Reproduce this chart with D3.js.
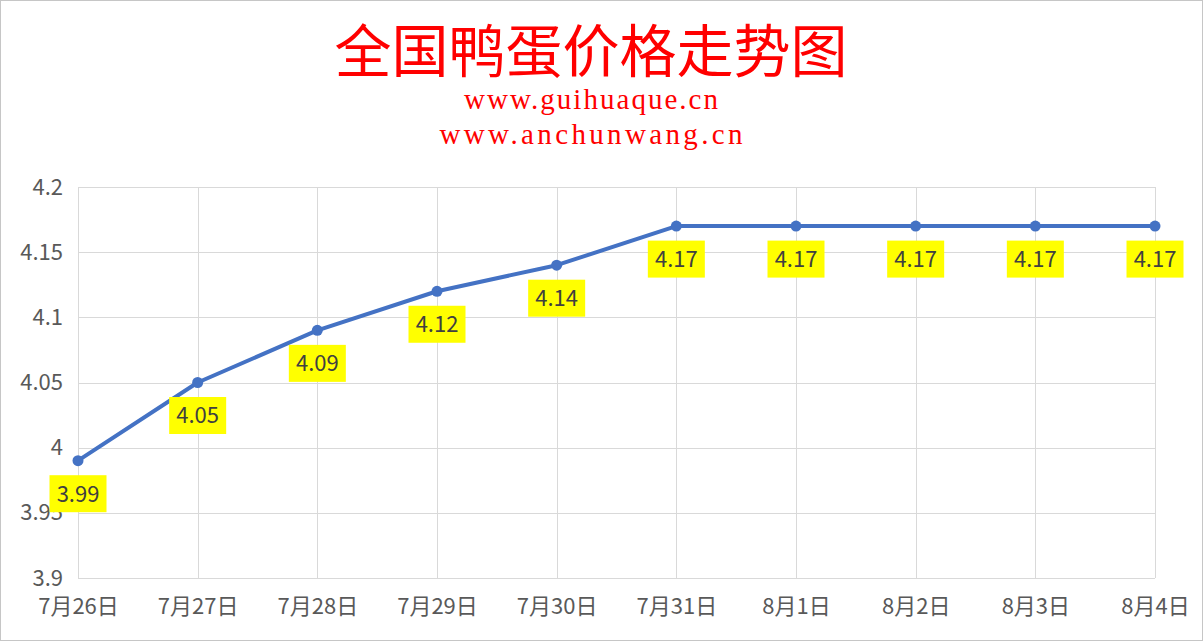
<!DOCTYPE html>
<html>
<head>
<meta charset="utf-8">
<script src="https://cdn.jsdelivr.net/npm/d3@7"></script>
<style>
  html, body { margin: 0; padding: 0; background: #fff; }
  svg { display: block; }
</style>
</head>
<body>
<svg id="chart"></svg>
<script>
const dates = ["7月26日", "7月27日", "7月28日", "7月29日", "7月30日", "7月31日", "8月1日", "8月2日", "8月3日", "8月4日"];
const prices = [3.99, 4.05, 4.09, 4.12, 4.14, 4.17, 4.17, 4.17, 4.17, 4.17];
const yTicks = [3.9, 3.95, 4, 4.05, 4.1, 4.15, 4.2];
const title = "全国鸭蛋价格走势图";
const subtitles = ["www.guihuaque.cn", "www.anchunwang.cn"];

const width = 1203;
const height = 641;
const margin = { top: 187, right: 48, bottom: 63, left: 78 };
const sans = "'Noto Sans CJK SC', 'DejaVu Sans', sans-serif";

const svg = d3.select("#chart").attr("width", width).attr("height", height);

svg
  .append("rect")
  .attr("x", 0.5)
  .attr("y", 0.5)
  .attr("width", width - 1)
  .attr("height", height - 1)
  .attr("fill", "#fff")
  .attr("stroke", "#c6c6c6");

const xScale = d3
  .scalePoint()
  .domain(dates)
  .range([margin.left, width - margin.right]);

const yScale = d3
  .scaleLinear()
  .domain([3.9, 4.2])
  .range([height - margin.bottom, margin.top]);

// horizontal grid
svg
  .append("g")
  .selectAll("line")
  .data(yTicks)
  .enter()
  .append("line")
  .attr("x1", margin.left)
  .attr("x2", width - margin.right)
  .attr("y1", (d) => Math.round(yScale(d)) + 0.5)
  .attr("y2", (d) => Math.round(yScale(d)) + 0.5)
  .attr("stroke", "#d9d9d9")
  .attr("stroke-width", 1);

// vertical grid
svg
  .append("g")
  .selectAll("line")
  .data(dates)
  .enter()
  .append("line")
  .attr("x1", (d) => Math.round(xScale(d)) + 0.5)
  .attr("x2", (d) => Math.round(xScale(d)) + 0.5)
  .attr("y1", margin.top)
  .attr("y2", height - margin.bottom)
  .attr("stroke", "#d9d9d9")
  .attr("stroke-width", 1);

// axes (labels only)
const yAxis = svg
  .append("g")
  .attr("transform", `translate(${margin.left}, 0)`)
  .call(d3.axisLeft(yScale).tickValues(yTicks).tickSize(0).tickPadding(15).tickFormat((d) => d3.format("")(d)));
yAxis.select(".domain").remove();
yAxis
  .selectAll("text")
  .attr("font-family", sans)
  .attr("font-size", 22)
  .attr("fill", "#595959");

const xAxis = svg
  .append("g")
  .attr("transform", `translate(0, ${height - margin.bottom})`)
  .call(d3.axisBottom(xScale).tickSize(0).tickPadding(20));
xAxis.select(".domain").remove();
xAxis
  .selectAll("text")
  .attr("font-family", sans)
  .attr("font-size", 22)
  .attr("fill", "#595959");

// line
const line = d3
  .line()
  .x((d, i) => xScale(dates[i]))
  .y((d) => yScale(d));

svg
  .append("path")
  .datum(prices)
  .attr("d", line)
  .attr("fill", "none")
  .attr("stroke", "#4472c4")
  .attr("stroke-width", 4)
  .attr("stroke-linejoin", "round")
  .attr("stroke-linecap", "round");

svg
  .append("g")
  .selectAll("circle")
  .data(prices)
  .enter()
  .append("circle")
  .attr("cx", (d, i) => xScale(dates[i]))
  .attr("cy", (d) => yScale(d))
  .attr("r", 5.5)
  .attr("fill", "#4472c4");

// data labels
const labels = svg
  .append("g")
  .selectAll("g")
  .data(prices)
  .enter()
  .append("g")
  .attr("transform", (d, i) => `translate(${xScale(dates[i])}, ${yScale(d) + 33})`);

labels
  .append("rect")
  .attr("x", -28.5)
  .attr("y", -18.5)
  .attr("width", 57)
  .attr("height", 37)
  .attr("fill", "#ffff00");

labels
  .append("text")
  .attr("text-anchor", "middle")
  .attr("dy", "0.36em")
  .attr("font-family", sans)
  .attr("font-size", 22)
  .attr("fill", "#404040")
  .text((d) => d.toFixed(2));

// titles
svg
  .append("text")
  .attr("x", 591)
  .attr("y", 72)
  .attr("text-anchor", "middle")
  .attr("font-family", "'Liberation Serif', 'Noto Sans CJK SC', serif")
  .attr("font-size", 57)
  .attr("fill", "#ff0000")
  .text(title);

const subWidths = [254, 303];
svg
  .append("g")
  .selectAll("text")
  .data(subtitles)
  .enter()
  .append("text")
  .attr("x", (d, i) => 591 - subWidths[i] / 2)
  .attr("y", (d, i) => 109 + i * 35)
  .attr("textLength", (d, i) => subWidths[i])
  .attr("lengthAdjust", "spacing")
  .attr("font-family", "'Liberation Serif', serif")
  .attr("font-size", 29)
  .attr("fill", "#ff0000")
  .text((d) => d);
</script>
</body>
</html>
